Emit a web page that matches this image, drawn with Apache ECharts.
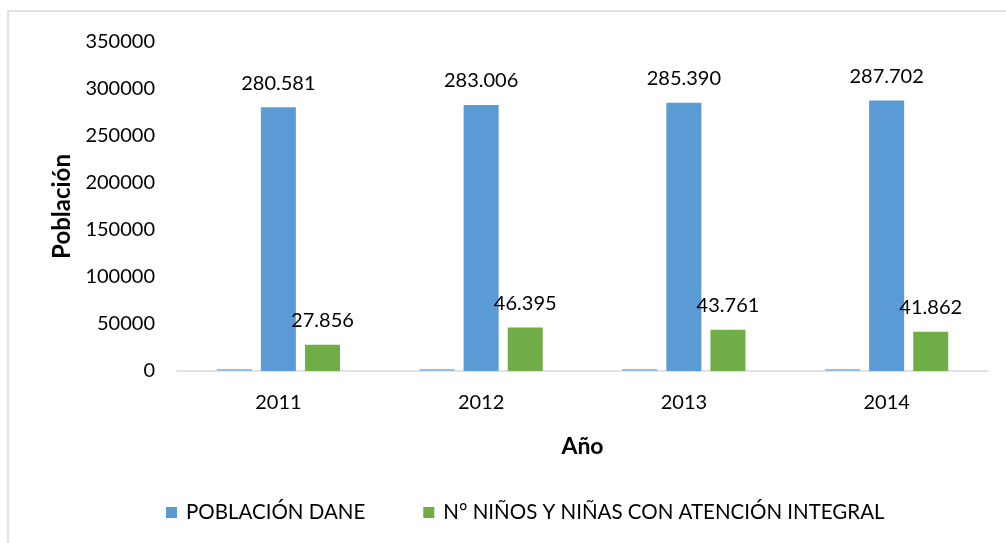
<!DOCTYPE html>
<html>
<head>
<meta charset="utf-8">
<script src="https://cdn.jsdelivr.net/npm/echarts@6/dist/echarts.min.js"></script>
<style>
  html, body { margin: 0; padding: 0; background: #fff; }
  #main { width: 1006px; height: 543px; }
</style>
</head>
<body>
<div id="main"></div>
<script>
// categorias y valores
const years = ['2011', '2012', '2013', '2014'];
const yearValues = [2011, 2012, 2013, 2014]; // serie "Año" sin leyenda
const poblacionDane = [280581, 283006, 285390, 287702];
const ninosAtencion = [27856, 46395, 43761, 41862];

const font = 'Lato, "Noto Sans", sans-serif';

// 280581 -> 280.581
const puntos = (v) => String(v).replace(/\B(?=(\d{3})+(?!\d))/g, '.');

const myChart = echarts.init(document.getElementById('main'));

const options = {
    animation: false,
    textStyle: { fontFamily: font },
    graphic: [{
        type: 'rect',
        shape: { x: 8, y: 11, width: 1100, height: 600 },
        style: { fill: 'none', stroke: '#d9d9d9', lineWidth: 1.5 },
        silent: true
    }],
    grid: { left: 177, right: 18, top: 42, bottom: 172 },
    legend: {
        data: ['POBLACIÓN DANE', 'N° NIÑOS Y NIÑAS CON ATENCIÓN INTEGRAL'],
        top: 497,
        left: 161,
        itemWidth: 11,
        itemHeight: 11,
        itemGap: 58,
        icon: 'rect',
        textStyle: { fontFamily: font, fontSize: 20.5, color: '#000', padding: [0, 0, 0, 4] }
    },
    xAxis: {
        type: 'category',
        data: years,
        name: 'Año',
        nameLocation: 'middle',
        nameGap: 64,
        nameTextStyle: { fontFamily: font, fontSize: 23, fontWeight: 'bold', color: '#000' },
        axisLine: { lineStyle: { color: '#d9d9d9', width: 1.5 } },
        axisTick: { show: false },
        axisLabel: { fontFamily: font, fontSize: 20, color: '#000', margin: 22 }
    },
    yAxis: {
        type: 'value',
        min: 0,
        max: 350000,
        interval: 50000,
        name: 'Población',
        nameLocation: 'middle',
        nameGap: 101,
        nameTextStyle: { fontFamily: font, fontSize: 24, fontWeight: 'bold', color: '#000' },
        splitLine: { show: false },
        axisLine: { show: false },
        axisTick: { show: false },
        axisLabel: {
            fontFamily: font, fontSize: 20, color: '#000', margin: 22,
            formatter: (v) => String(v)
        }
    },
    series: [
        {
            name: 'Año',
            type: 'bar',
            data: yearValues,
            barWidth: 35,
            barGap: '26%',
            itemStyle: { color: '#9bbfe4' }
        },
        {
            name: 'POBLACIÓN DANE',
            type: 'bar',
            data: poblacionDane,
            barWidth: 35,
            barGap: '26%',
            itemStyle: { color: '#5b9bd5' },
            label: {
                show: true,
                position: 'top',
                distance: 14,
                fontFamily: font,
                fontSize: 20,
                color: '#000',
                formatter: (p) => puntos(p.value)
            }
        },
        {
            name: 'N° NIÑOS Y NIÑAS CON ATENCIÓN INTEGRAL',
            type: 'bar',
            data: ninosAtencion,
            barWidth: 35,
            barGap: '26%',
            itemStyle: { color: '#70ad47' },
            label: {
                show: true,
                position: 'top',
                distance: 14,
                fontFamily: font,
                fontSize: 20,
                color: '#000',
                formatter: (p) => puntos(p.value)
            }
        }
    ]
};

myChart.setOption(options);
</script>
</body>
</html>
